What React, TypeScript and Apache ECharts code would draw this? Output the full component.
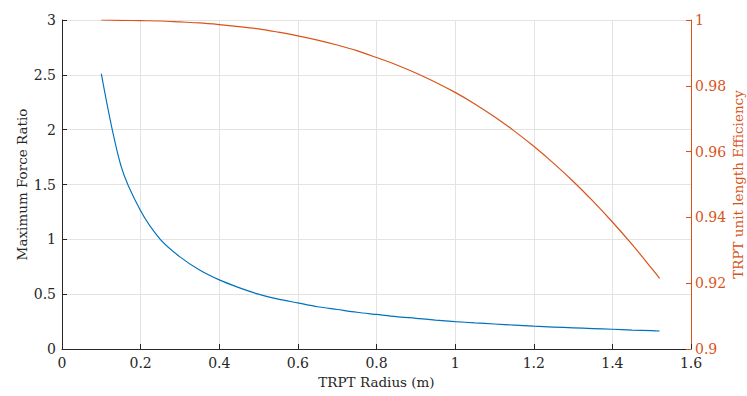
import React, { useEffect, useRef } from "react";
import * as echarts from "echarts";

const radius = [0.1, 0.15, 0.2, 0.25, 0.3, 0.35, 0.4, 0.45, 0.5, 0.55, 0.6, 0.65, 0.7, 0.75, 0.8, 0.85, 0.9, 0.95, 1.0, 1.05, 1.1, 1.15, 1.2, 1.25, 1.3, 1.35, 1.4, 1.45, 1.5, 1.52];
const forceRatio = [2.51, 1.67, 1.26, 1.0, 0.84, 0.72, 0.63, 0.56, 0.5, 0.455, 0.42, 0.385, 0.36, 0.335, 0.315, 0.295, 0.28, 0.264, 0.25, 0.238, 0.228, 0.218, 0.208, 0.2, 0.193, 0.186, 0.18, 0.173, 0.167, 0.164];
const efficiency = [1.0, 0.9999, 0.9998, 0.9997, 0.9994, 0.9991, 0.9986, 0.998, 0.9973, 0.9963, 0.9952, 0.9939, 0.9924, 0.9907, 0.9886, 0.9864, 0.9839, 0.9811, 0.978, 0.9745, 0.9706, 0.9663, 0.9616, 0.9565, 0.951, 0.945, 0.9386, 0.9318, 0.9245, 0.9215];

const xName = "TRPT Radius (m)";
const yLeftName = "Maximum Force Ratio";
const yRightName = "TRPT unit length Efficiency";

const FONT = "DejaVu Serif";
const BLUE = "#0072BD";
const ORANGE = "#D95319";
const DARK = "#262626";
const TICK = 14;
const TITLE = 13.5;

export default function App() {
  const ref = useRef<HTMLDivElement>(null);
  useEffect(() => {
    if (!ref.current) return;
    const chart = echarts.init(ref.current, undefined, { renderer: "svg" });
    chart.setOption({
      animation: false,
      backgroundColor: "#ffffff",
      grid: { left: 62, right: 56, top: 20, bottom: 47, containLabel: false, outerBoundsMode: "none" },
      xAxis: {
        type: "value",
        min: 0,
        max: 1.6,
        interval: 0.2,
        name: xName,
        nameLocation: "middle",
        nameGap: 26,
        nameTextStyle: { fontFamily: FONT, fontSize: TITLE, color: DARK },
        axisLine: { show: true, lineStyle: { color: DARK, width: 1 } },
        axisTick: { show: true, inside: true, length: 5, lineStyle: { color: DARK } },
        axisLabel: { fontFamily: FONT, fontSize: TICK, color: DARK, margin: 7 },
        splitLine: { show: true, lineStyle: { color: "#e3e3e3", width: 1 } },
      },
      yAxis: [
        {
          type: "value",
          min: 0,
          max: 3,
          interval: 0.5,
          name: yLeftName,
          nameLocation: "middle",
          nameGap: 33,
          nameMoveOverlap: false,
          nameTextStyle: { fontFamily: FONT, fontSize: TITLE, color: DARK },
          axisLine: { show: true, lineStyle: { color: DARK, width: 1 } },
          axisTick: { show: true, inside: true, length: 5, lineStyle: { color: DARK } },
          axisLabel: { fontFamily: FONT, fontSize: TICK, color: DARK, margin: 6 },
          splitLine: { show: true, lineStyle: { color: "#e3e3e3", width: 1 } },
        },
        {
          type: "value",
          position: "right",
          min: 0.9,
          max: 1,
          interval: 0.02,
          name: yRightName,
          nameLocation: "middle",
          nameGap: 40,
          nameRotate: 90,
          nameMoveOverlap: false,
          nameTextStyle: { fontFamily: FONT, fontSize: TITLE, color: ORANGE },
          axisLine: { show: true, lineStyle: { color: ORANGE, width: 1 } },
          axisTick: { show: true, inside: true, length: 5, lineStyle: { color: ORANGE } },
          axisLabel: { fontFamily: FONT, fontSize: TICK, color: ORANGE, margin: 4 },
          splitLine: { show: false },
        },
      ],
      series: [
        {
          type: "line",
          yAxisIndex: 0,
          data: radius.map((r, i) => [r, forceRatio[i]]),
          showSymbol: false,
          smooth: 0.3,
          lineStyle: { color: BLUE, width: 1.2 },
          itemStyle: { color: BLUE },
        },
        {
          type: "line",
          yAxisIndex: 1,
          data: radius.map((r, i) => [r, efficiency[i]]),
          showSymbol: false,
          smooth: 0.3,
          lineStyle: { color: ORANGE, width: 1.2 },
          itemStyle: { color: ORANGE },
        },
      ],
    });
    return () => chart.dispose();
  }, []);
  return <div ref={ref} style={{ width: 747, height: 396, position: "absolute", left: 0, top: 0 }} />;
}
